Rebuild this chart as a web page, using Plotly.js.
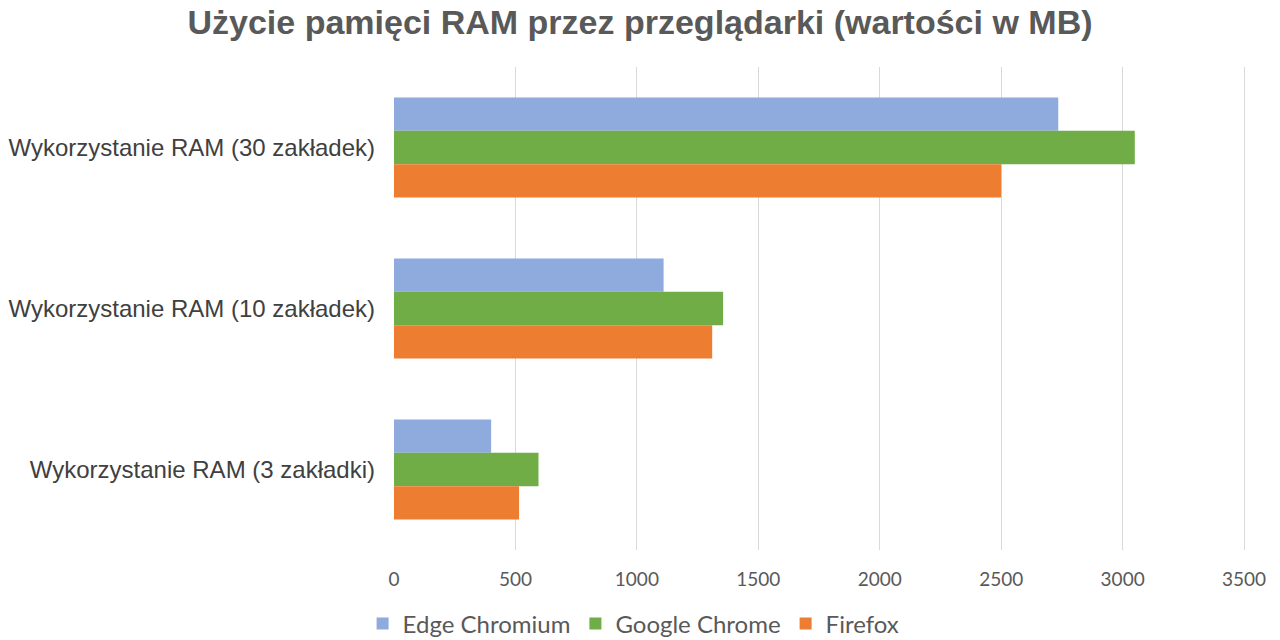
<!DOCTYPE html>
<html>
<head>
<meta charset="utf-8">
<script src="https://cdn.plot.ly/plotly-3.0.1.min.js"></script>
<style>
  html, body { margin: 0; padding: 0; background: #fff; }
  #chart { width: 1280px; height: 640px; }
</style>
</head>
<body>
<div id="chart"></div>
<script>
// categories listed top to bottom (axis is reversed)
const categories = [
  'Wykorzystanie RAM (30 zakładek)',
  'Wykorzystanie RAM (10 zakładek)',
  'Wykorzystanie RAM (3 zakładki)'
]
const browsers = ['Edge Chromium', 'Google Chrome', 'Firefox']
const edgeValues = [2735, 1110, 400]
const chromeValues = [3050, 1355, 595]
const firefoxValues = [2500, 1310, 515]
const xTicks = [0, 500, 1000, 1500, 2000, 2500, 3000, 3500]

const colors = ['#8FAADC', '#70AD47', '#ED7D31']
const series = [edgeValues, chromeValues, firefoxValues]

const data = series.map(function (vals, i) {
  return {
    type: 'bar',
    orientation: 'h',
    name: browsers[i],
    x: vals,
    y: categories,
    marker: { color: colors[i] },
    hoverinfo: 'x+name'
  }
})

const layout = {
  width: 1280,
  height: 640,
  margin: { l: 394, r: 33, t: 67, b: 90, autoexpand: false },
  paper_bgcolor: '#fff',
  plot_bgcolor: '#fff',
  barmode: 'group',
  bargap: 0.38,
  bargroupgap: 0,
  title: {
    text: '<b>Użycie pamięci RAM przez przeglądarki (wartości w MB)</b>',
    font: { family: 'Liberation Sans, Arial, sans-serif', size: 34, color: '#595959' },
    x: 0.5,
    xref: 'container',
    xanchor: 'center',
    y: 0.965,
    yref: 'container',
    yanchor: 'middle'
  },
  xaxis: {
    // a little past 3500 so the last gridline is not dropped at the edge
    range: [0, 3512],
    tickvals: xTicks,
    showgrid: true,
    gridcolor: '#d9d9d9',
    gridwidth: 1,
    zeroline: false,
    showline: false,
    ticks: '',
    tickfont: { family: 'Lato, sans-serif', size: 19, color: '#595959' },
    ticklabelstandoff: 16
  },
  yaxis: {
    autorange: 'reversed',
    showgrid: false,
    zeroline: false,
    showline: false,
    ticks: '',
    tickfont: { family: 'Liberation Sans, Arial, sans-serif', size: 24, color: '#404040' },
    ticklabelstandoff: 18
  },
  showlegend: true,
  legend: {
    orientation: 'h',
    xref: 'container',
    yref: 'container',
    x: 0.495,
    xanchor: 'center',
    y: 0.025,
    yanchor: 'middle',
    font: { family: 'Lato, sans-serif', size: 24, color: '#595959' },
    itemwidth: 30,
    traceorder: 'normal'
  }
}

Plotly.newPlot('chart', data, layout, { displayModeBar: false, staticPlot: true })
</script>
</body>
</html>
